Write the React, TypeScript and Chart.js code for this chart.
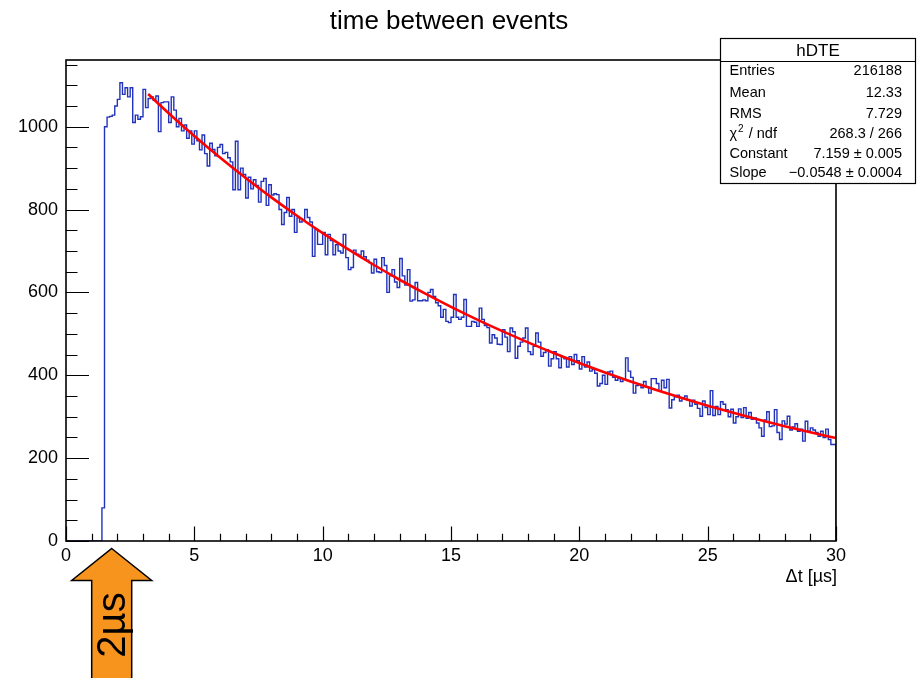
import React, { useEffect, useRef } from "react";
import { Chart, registerables } from "chart.js";

Chart.register(...registerables);

// ---------- data ----------
const binWidth = 0.1;
const binCounts: number[] = [
  0, 0, 0, 0, 0, 0, 0, 0, 0, 0,
  0, 0, 0, 0, 0, 80, 1000, 1023, 1025, 1028,
  1050, 1066, 1106, 1078, 1094, 1072, 1094, 1010, 1028, 1018,
  1024, 1090, 1046, 1068, 1072, 1064, 1074, 988, 1058, 1060,
  1060, 1010, 1072, 1040, 1000, 1020, 990, 1004, 972, 990,
  958, 990, 966, 944, 980, 935, 905, 960, 945, 930,
  950, 957, 935, 938, 925, 915, 848, 965, 848, 900,
  885, 828, 878, 850, 872, 858, 818, 868, 875, 810,
  860, 835, 838, 836, 800, 764, 793, 829, 784, 800,
  745, 780, 770, 775, 800, 781, 770, 687, 752, 716,
  716, 745, 691, 740, 725, 691, 715, 700, 695, 740,
  684, 655, 660, 702, 692, 690, 700, 686, 678, 672,
  647, 680, 650, 648, 684, 665, 600, 640, 655, 625,
  612, 682, 640, 618, 655, 579, 582, 624, 580, 580,
  582, 580, 600, 607, 590, 575, 568, 540, 559, 530,
  527, 540, 595, 540, 535, 540, 583, 518, 518, 530,
  528, 518, 562, 535, 520, 515, 478, 498, 490, 475,
  474, 510, 492, 457, 514, 505, 441, 470, 480, 490,
  514, 457, 450, 470, 502, 480, 446, 455, 462, 422,
  440, 457, 440, 418, 445, 440, 420, 445, 426, 450,
  435, 415, 445, 420, 432, 410, 414, 405, 374, 380,
  400, 378, 408, 410, 395, 388, 392, 385, 390, 442,
  410, 395, 357, 375, 378, 370, 385, 372, 357, 392,
  392, 380, 362, 388, 370, 390, 321, 341, 348, 352,
  338, 346, 350, 340, 326, 340, 330, 320, 301, 338,
  322, 305, 363, 303, 325, 305, 336, 330, 317, 300,
  318, 285, 300, 319, 298, 322, 296, 310, 294, 297,
  285, 273, 253, 292, 312, 276, 278, 317, 262, 245,
  290, 282, 301, 268, 275, 283, 265, 270, 241, 289,
  265, 273, 268, 262, 253, 265, 250, 270, 245, 233,
];

const fitX: number[] = [3.2, 4, 5, 6, 7, 8, 9, 10, 11, 12, 13, 14, 15, 16, 17, 18, 19, 20, 21, 22, 23, 24, 25, 26, 27, 28, 29, 30];
const fitY: number[] = [1078.8, 1032.6, 977.6, 925.5, 876.1, 829.4, 785.2, 743.3, 703.7, 666.2, 630.6, 597.0, 565.2, 535.0, 506.5, 479.5, 453.9, 429.7, 406.8, 385.1, 364.6, 345.1, 326.7, 309.3, 292.8, 277.2, 262.4, 248.4];

const xTicks: number[] = [0, 5, 10, 15, 20, 25, 30];
const yTicks: number[] = [0, 200, 400, 600, 800, 1000];
const xMax = 30;
const yMax = 1161;

const titleText = "time between events";
const xAxisTitle = "\u0394t [\u00b5s]";
const statsTitle = "hDTE";
const statsLabels: string[] = ["Entries", "Mean", "RMS", "CHI", "Constant", "Slope"];
const statsValues: string[] = ["216188", "12.33", "7.729", "268.3 / 266", "7.159 \u00b1 0.005", "\u22120.0548 \u00b1 0.0004"];
const arrowText = "2\u00b5s";

const FONT = "'Liberation Sans', Arial, Helvetica, sans-serif";

const decorPlugin = {
  id: "rootDecor",
  afterDatasetsDraw(chart: any) {
    const ctx: CanvasRenderingContext2D = chart.ctx;
    const xs = chart.scales.x;
    const ys = chart.scales.y;
    const { left, right, top, bottom } = chart.chartArea;
    ctx.save();

    // frame
    ctx.strokeStyle = "#000";
    ctx.lineWidth = 1.6;
    ctx.strokeRect(left, top, right - left, bottom - top);

    // y ticks (inside)
    ctx.lineWidth = 1.2;
    ctx.beginPath();
    for (let v = 0; v <= yMax; v += 50) {
      const py = Math.round(ys.getPixelForValue(v)) + 0.5;
      const len = v % 200 === 0 ? 23 : 11.5;
      ctx.moveTo(left, py);
      ctx.lineTo(left + len, py);
    }
    // x ticks (inside)
    for (let v = 0; v <= xMax; v += 1) {
      const px = Math.round(xs.getPixelForValue(v)) + 0.5;
      const len = v % 5 === 0 ? 14.5 : 7.2;
      ctx.moveTo(px, bottom);
      ctx.lineTo(px, bottom - len);
    }
    ctx.stroke();

    // title
    ctx.fillStyle = "#000";
    ctx.font = `26px ${FONT}`;
    ctx.textAlign = "center";
    ctx.textBaseline = "alphabetic";
    ctx.fillText(titleText, 449, 29);

    // x axis title
    ctx.font = `18px ${FONT}`;
    ctx.textAlign = "right";
    ctx.textBaseline = "middle";
    ctx.fillText(xAxisTitle, 837, 577);

    // stats box
    const bx = 720.5, by = 38.5, bw = 195, bh = 145;
    ctx.fillStyle = "#fff";
    ctx.fillRect(bx, by, bw, bh);
    ctx.strokeStyle = "#000";
    ctx.lineWidth = 1.2;
    ctx.strokeRect(bx, by, bw, bh);
    ctx.beginPath();
    ctx.moveTo(bx, 61.5);
    ctx.lineTo(bx + bw, 61.5);
    ctx.stroke();
    ctx.fillStyle = "#000";
    ctx.font = `17px ${FONT}`;
    ctx.textAlign = "center";
    ctx.textBaseline = "middle";
    ctx.fillText(statsTitle, bx + bw / 2, 51);
    const rowY = [71, 93, 113.5, 134, 154, 172.5];
    ctx.font = `14.5px ${FONT}`;
    statsLabels.forEach((lab, i) => {
      const yy = rowY[i];
      ctx.textAlign = "left";
      if (lab === "CHI") {
        ctx.font = `14.5px ${FONT}`;
        ctx.fillText("\u03c7", 729.5, yy);
        const w = ctx.measureText("\u03c7").width;
        ctx.font = `10px ${FONT}`;
        ctx.fillText("2", 729.5 + w + 1, yy - 5);
        const w2 = ctx.measureText("2").width;
        ctx.font = `14.5px ${FONT}`;
        ctx.fillText(" / ndf", 729.5 + w + 1 + w2 + 1, yy);
      } else {
        ctx.fillText(lab, 729.5, yy);
      }
      ctx.textAlign = "right";
      ctx.fillText(statsValues[i], 902, yy);
    });

    // arrow
    ctx.beginPath();
    ctx.moveTo(111.7, 548.5);
    ctx.lineTo(151.7, 580.5);
    ctx.lineTo(131.7, 580.5);
    ctx.lineTo(131.7, 690);
    ctx.lineTo(91.7, 690);
    ctx.lineTo(91.7, 580.5);
    ctx.lineTo(71.7, 580.5);
    ctx.closePath();
    ctx.fillStyle = "#f7941d";
    ctx.fill();
    ctx.strokeStyle = "#000";
    ctx.lineWidth = 1.5;
    ctx.stroke();

    ctx.save();
    ctx.translate(125, 625);
    ctx.rotate(-Math.PI / 2);
    ctx.fillStyle = "#000";
    ctx.font = `40px ${FONT}`;
    ctx.textAlign = "center";
    ctx.textBaseline = "alphabetic";
    ctx.fillText(arrowText, 0, 0);
    ctx.restore();

    ctx.restore();
  },
};

export default function App() {
  const canvasRef = useRef<HTMLCanvasElement | null>(null);

  useEffect(() => {
    const canvas = canvasRef.current;
    if (!canvas) return;

    const histPoints = binCounts.map((v, i) => ({ x: Math.round(i * binWidth * 1000) / 1000, y: v }));
    const lastEdge = Math.round(binCounts.length * binWidth * 1000) / 1000;
    histPoints.push({ x: lastEdge, y: binCounts[binCounts.length - 1] });
    histPoints.push({ x: lastEdge, y: 0 });

    const fitPoints = fitX.map((x, i) => ({ x, y: fitY[i] }));

    const chart = new Chart(canvas, {
      type: "line",
      data: {
        datasets: [
          {
            label: "fit",
            data: fitPoints,
            borderColor: "#ff0000",
            borderWidth: 2.6,
            pointRadius: 0,
            fill: false,
            cubicInterpolationMode: "monotone",
            order: 0,
          },
          {
            label: "hDTE",
            data: histPoints,
            borderColor: "#2233bb",
            borderWidth: 1.4,
            pointRadius: 0,
            fill: false,
            stepped: "after",
            order: 1,
          },
        ],
      },
      options: {
        animation: false,
        responsive: false,
        maintainAspectRatio: false,
        layout: { padding: { left: 0, right: 81, top: 60, bottom: 0 } },
        plugins: {
          legend: { display: false },
          title: { display: false },
          tooltip: { enabled: false },
        },
        scales: {
          x: {
            type: "linear",
            min: 0,
            max: xMax,
            grid: { display: false, drawTicks: false },
            border: { display: false },
            ticks: {
              color: "#000",
              font: { family: FONT, size: 18 },
              padding: 4,
              maxRotation: 0,
              autoSkip: false,
              callback: (v: any) => String(v),
            },
            afterBuildTicks: (s: any) => {
              s.ticks = xTicks.map((v) => ({ value: v }));
            },
            afterFit: (s: any) => {
              s.height = 137;
            },
          },
          y: {
            type: "linear",
            min: 0,
            max: yMax,
            grid: { display: false, drawTicks: false },
            border: { display: false },
            ticks: {
              color: "#000",
              font: { family: FONT, size: 18 },
              padding: 8,
              autoSkip: false,
              callback: (v: any) => String(v),
            },
            afterBuildTicks: (s: any) => {
              s.ticks = yTicks.map((v) => ({ value: v }));
            },
            afterFit: (s: any) => {
              s.width = 66;
            },
          },
        },
      },
      plugins: [decorPlugin],
    });

    return () => {
      chart.destroy();
    };
  }, []);

  return (
    <div style={{ position: "fixed", left: 0, top: 0, width: 917, height: 678, background: "#fff", overflow: "hidden" }}>
      <canvas ref={canvasRef} width={917} height={678} style={{ display: "block", width: 917, height: 678 }} />
    </div>
  );
}
